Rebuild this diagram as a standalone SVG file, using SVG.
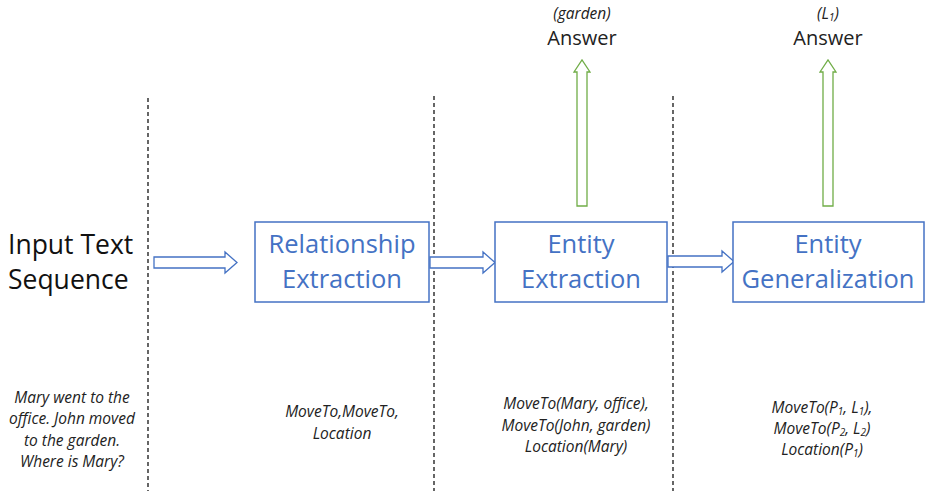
<svg xmlns="http://www.w3.org/2000/svg" width="926" height="491" viewBox="0 0 926 491">
<style>
.box{fill:#fff;stroke:#4472C4;stroke-width:1.5}
.bt{font-family:"Open Sans","Noto Sans",sans-serif;font-size:25.5px;fill:#4472C4;text-anchor:middle}
.blue{fill:#fff;stroke:#4472C4;stroke-width:1.3}
.green{fill:#fff;stroke:#70AD47;stroke-width:1.3}
.dash{stroke:#000;stroke-width:1.2;stroke-dasharray:4,3;fill:none}
.it{font-family:"Open Sans","Noto Sans",sans-serif;font-style:italic;font-size:15.5px;fill:#222;text-anchor:middle}
.ans{font-family:"Open Sans","Noto Sans",sans-serif;font-size:20px;fill:#222;text-anchor:middle}
.lbl{font-family:"Open Sans","Noto Sans",sans-serif;font-size:26.5px;fill:#111}
.sub{font-size:10px}
</style>
<rect width="926" height="491" fill="#fff"/>
<g id="dividers">
<line class="dash" x1="148" y1="98" x2="148" y2="491"/>
<line class="dash" x1="434" y1="96" x2="434" y2="491"/>
<line class="dash" x1="673" y1="96" x2="673" y2="491"/>
</g>
<g id="input">
<text class="lbl" x="8" y="254">Input Text</text>
<text class="lbl" x="8" y="289">Sequence</text>
<text class="it" x="72" y="403">Mary went to the</text>
<text class="it" x="72" y="424">office. John moved</text>
<text class="it" x="72" y="446">to the garden.</text>
<text class="it" x="72" y="467">Where is Mary?</text>
</g>
<g id="connectors">
<path class="blue" d="M154,257 H225 V252 L237,262.5 L225,273 V268 H154 Z"/>
<path class="blue" d="M430,257 H483 V252 L495,262.5 L483,273 V268 H430 Z"/>
<path class="blue" d="M668,256 H722 V251 L734,261.5 L722,272 V267 H668 Z"/>
<path class="green" d="M577,206 V72 H574 L582,60 L590,72 H587 V206 Z"/>
<path class="green" d="M823,206 V72 H820 L828,60 L836,72 H833 V206 Z"/>
</g>
<g id="relationship-extraction">
<rect class="box" x="255" y="222" width="174" height="80"/>
<text class="bt" x="342" y="253">Relationship</text>
<text class="bt" x="342" y="288">Extraction</text>
<text class="it" x="342" y="417">MoveTo,MoveTo,</text>
<text class="it" x="342" y="439">Location</text>
</g>
<g id="entity-extraction">
<rect class="box" x="495" y="222" width="172" height="80"/>
<text class="bt" x="581" y="253">Entity</text>
<text class="bt" x="581" y="288">Extraction</text>
<text class="it" x="576" y="409">MoveTo(Mary, office),</text>
<text class="it" x="576" y="431">MoveTo(John, garden)</text>
<text class="it" x="576" y="452">Location(Mary)</text>
<text class="it" x="582" y="19" font-size="14">(garden)</text>
<text class="ans" x="582" y="45">Answer</text>
</g>
<g id="entity-generalization">
<rect class="box" x="733" y="222" width="191" height="80"/>
<text class="bt" x="828" y="253">Entity</text>
<text class="bt" x="828" y="288">Generalization</text>
<text class="it" x="822" y="413">MoveTo(P<tspan class="sub" dy="2">1</tspan><tspan dy="-2">, L</tspan><tspan class="sub" dy="2">1</tspan><tspan dy="-2">),</tspan></text>
<text class="it" x="822" y="434">MoveTo(P<tspan class="sub" dy="2">2</tspan><tspan dy="-2">, L</tspan><tspan class="sub" dy="2">2</tspan><tspan dy="-2">)</tspan></text>
<text class="it" x="822" y="455">Location(P<tspan class="sub" dy="2">1</tspan><tspan dy="-2">)</tspan></text>
<text class="it" x="828" y="19" font-size="14">(L<tspan class="sub" dy="2">1</tspan><tspan dy="-2">)</tspan></text>
<text class="ans" x="828" y="45">Answer</text>
</g>
</svg>
